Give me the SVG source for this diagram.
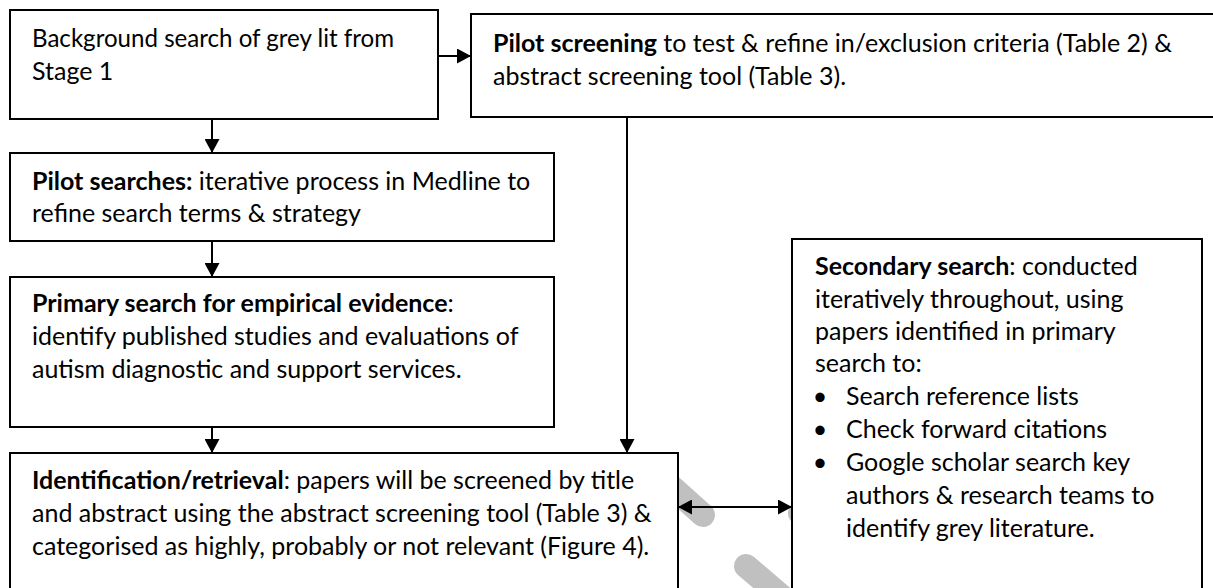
<svg xmlns="http://www.w3.org/2000/svg" width="1213" height="588" viewBox="0 0 1213 588">
<style>
.box{fill:#fff;stroke:#000;stroke-width:2}
.t{font-family:Lato,"Liberation Sans",sans-serif;font-size:25px;fill:#000}
.b{font-weight:bold}
.c{stroke:#000;stroke-width:2;fill:none}
.wm{stroke:#c0c0c0;stroke-width:24;stroke-linecap:round;fill:none}
</style>
<defs>
<marker id="ah" markerUnits="userSpaceOnUse" markerWidth="14" markerHeight="15" refX="14" refY="7.5" orient="auto-start-reverse" viewBox="0 0 14 15">
<path d="M0,0 L14,7.5 L0,15 z" fill="#000"/>
</marker>
</defs>
<rect width="1213" height="588" fill="#fff"/>
<g id="watermark">
<line class="wm" x1="655" y1="472" x2="703" y2="515"/>
<line class="wm" x1="746" y1="566" x2="800" y2="612"/>
<line class="wm" x1="800" y1="513" x2="840" y2="550"/>
</g>
<g id="connectors">
<line class="c" x1="438" y1="56" x2="471" y2="56" marker-end="url(#ah)"/>
<line class="c" x1="212" y1="119" x2="212" y2="153" marker-end="url(#ah)"/>
<line class="c" x1="212" y1="241" x2="212" y2="277" marker-end="url(#ah)"/>
<line class="c" x1="212" y1="427" x2="212" y2="453" marker-end="url(#ah)"/>
<line class="c" x1="627" y1="117" x2="627" y2="453" marker-end="url(#ah)"/>
<line class="c" x1="678" y1="507" x2="792" y2="507" marker-start="url(#ah)" marker-end="url(#ah)"/>
</g>
<g id="background">
<rect class="box" x="10" y="10" width="428" height="109"/>
<text class="t" x="32" y="47" textLength="362" lengthAdjust="spacingAndGlyphs">Background search of grey lit from</text>
<text class="t" x="32" y="80">Stage 1</text>
</g>
<g id="pilot-screening">
<path class="box" d="M1215,14 H471 V117 H1215"/>
<text class="t" x="493" y="52"><tspan class="b">Pilot screening</tspan> to test &amp; refine in/exclusion criteria (Table 2) &amp;</text>
<text class="t" x="493" y="85">abstract screening tool (Table 3).</text>
</g>
<g id="pilot-searches">
<rect class="box" x="10" y="153" width="544" height="88"/>
<text class="t" x="32" y="190"><tspan class="b">Pilot searches:</tspan> iterative process in Medline to</text>
<text class="t" x="32" y="222">refine search terms &amp; strategy</text>
</g>
<g id="primary-search">
<rect class="box" x="10" y="277" width="544" height="150"/>
<text class="t" x="32" y="312"><tspan class="b">Primary search for empirical evidence</tspan>:</text>
<text class="t" x="32" y="345">identify published studies and evaluations of</text>
<text class="t" x="32" y="378">autism diagnostic and support services.</text>
</g>
<g id="identification">
<path class="box" d="M10,590 V453 H678 V590"/>
<text class="t" x="32" y="489"><tspan class="b">Identification/retrieval</tspan>: papers will be screened by title</text>
<text class="t" x="32" y="522">and abstract using the abstract screening tool (Table 3) &amp;</text>
<text class="t" x="32" y="555">categorised as highly, probably or not relevant (Figure 4).</text>
</g>
<g id="secondary-search">
<path class="box" d="M792,590 V239 H1202 V590"/>
<text class="t" x="815" y="275"><tspan class="b">Secondary search</tspan>: conducted</text>
<text class="t" x="815" y="308">iteratively throughout, using</text>
<text class="t" x="815" y="340">papers identified in primary</text>
<text class="t" x="815" y="372">search to:</text>
<text class="t" x="820" y="405" text-anchor="middle">•</text>
<text class="t" x="846" y="405">Search reference lists</text>
<text class="t" x="820" y="438" text-anchor="middle">•</text>
<text class="t" x="846" y="438">Check forward citations</text>
<text class="t" x="820" y="471" text-anchor="middle">•</text>
<text class="t" x="846" y="471">Google scholar search key</text>
<text class="t" x="846" y="504">authors &amp; research teams to</text>
<text class="t" x="846" y="537">identify grey literature.</text>
</g>
</svg>
